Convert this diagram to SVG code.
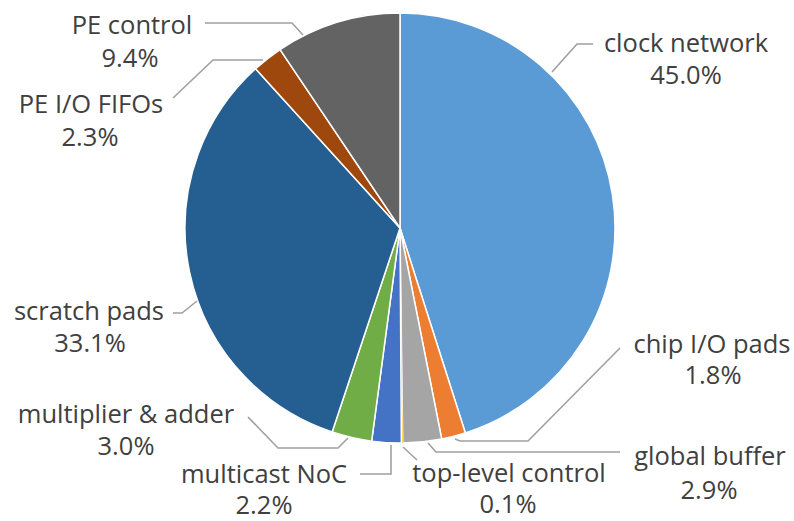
<svg xmlns="http://www.w3.org/2000/svg" width="794" height="521" viewBox="0 0 794 521">
<style>
.s{stroke:#fff;stroke-width:1.5;stroke-linejoin:round}
.l{fill:none;stroke:#a0a0a0;stroke-width:1.6}
text{font-family:"Open Sans","Noto Sans","Liberation Sans",sans-serif;font-size:25.5px;fill:#404040;text-anchor:middle}
</style>
<rect width="794" height="521" fill="#fff"/>
<g id="clock-network"><path class="s" fill="#5B9BD5" d="M400,228 L400,13 A215,215 0 0 1 465.29,432.85 Z"/></g>
<g id="chip-io-pads"><path class="s" fill="#ED7D31" d="M400,228 L465.29,432.85 A215,215 0 0 1 441.69,438.92 Z"/></g>
<g id="global-buffer"><path class="s" fill="#A5A5A5" d="M400,228 L441.69,438.92 A215,215 0 0 1 402.71,442.98 Z"/></g>
<g id="top-level-control"><path fill="#FFC000" d="M400,228 L402.71,442.98 A215,215 0 0 1 401.35,443 Z"/></g>
<g id="multicast-noc"><path class="s" fill="#4472C4" d="M400,228 L401.35,443 A215,215 0 0 1 371.66,441.12 Z"/></g>
<g id="multiplier-adder"><path class="s" fill="#70AD47" d="M400,228 L371.66,441.12 A215,215 0 0 1 332.14,432.01 Z"/></g>
<g id="scratch-pads"><path class="s" fill="#255E91" d="M400,228 L332.14,432.01 A215,215 0 0 1 255.58,68.73 Z"/></g>
<g id="pe-io-fifos"><path class="s" fill="#9E480E" d="M400,228 L255.58,68.73 A215,215 0 0 1 280.07,49.56 Z"/></g>
<g id="pe-control"><path class="s" fill="#636363" d="M400,228 L280.07,49.56 A215,215 0 0 1 400,13 Z"/></g>
<g id="connectors">
<polyline class="l" points="552,72 577,44 593,44"/>
<polyline class="l" points="455,439 460,441 528,441 620,348"/>
<polyline class="l" points="428,443 436,452 620,452"/>
<polyline class="l" points="403,447 417,460"/>
<polyline class="l" points="391,445 391,474 360,474"/>
<polyline class="l" points="348,438 338,448 278,448 248,417"/>
<polyline class="l" points="173,313 182,313 197,301"/>
<polyline class="l" points="173,98 213,60 263,60"/>
<polyline class="l" points="205,23 292,23 303,35"/>
</g>
<g id="labels">
<text x="686" y="52">clock network</text><text x="686" y="84">45.0%</text>
<text x="712" y="353">chip I/O pads</text><text x="713" y="384">1.8%</text>
<text x="710" y="465">global buffer</text><text x="709" y="499">2.9%</text>
<text x="509" y="482">top-level control</text><text x="508" y="513">0.1%</text>
<text x="264" y="483">multicast NoC</text><text x="264" y="514">2.2%</text>
<text x="126" y="423">multiplier &amp; adder</text><text x="126" y="455">3.0%</text>
<text x="89" y="320">scratch pads</text><text x="90" y="352">33.1%</text>
<text x="91" y="113">PE I/O FIFOs</text><text x="90" y="146">2.3%</text>
<text x="132" y="34">PE control</text><text x="130" y="67">9.4%</text>
</g>
</svg>
